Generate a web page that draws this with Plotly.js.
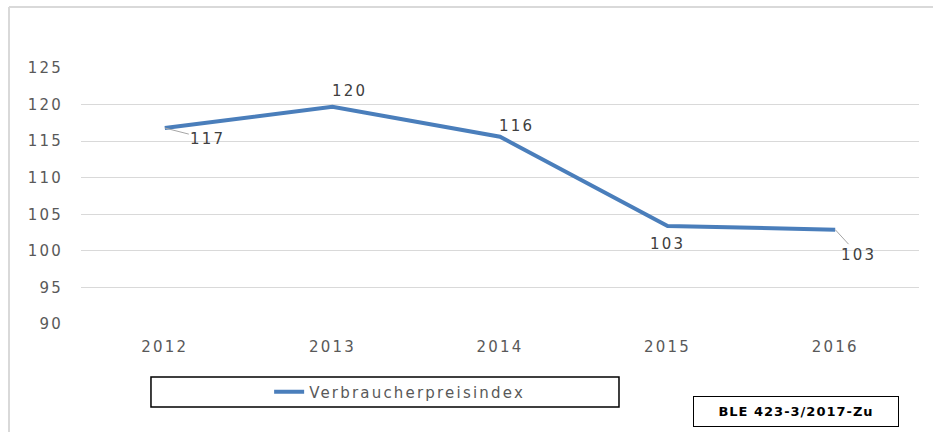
<!DOCTYPE html>
<html>
<head>
<meta charset="utf-8">
<script src="https://cdn.plot.ly/plotly-3.0.1.min.js"></script>
<style>
html,body{margin:0;padding:0;background:#fff;}
#chart{width:933px;height:432px;}
svg text{letter-spacing:2.2px;}
#chart svg g.annotation[data-index="5"] text{letter-spacing:1px !important;}
</style>
</head>
<body>
<div id="chart"></div>
<script>
const years = ['2012', '2013', '2014', '2015', '2016'];
const values = [116.8, 119.7, 115.6, 103.4, 102.9];
const seriesName = 'Verbraucherpreisindex';
const yTicks = [90, 95, 100, 105, 110, 115, 120, 125];
const sourceText = 'BLE 423-3/2017-Zu';

const textColor = '#595959';
const fontFam = 'DejaVu Sans, Verdana, sans-serif';

// label placement per point (pixels)
const labelPlace = [
  {arrow: true, ax: 43, ay: 11},
  {arrow: false, xs: 17, ys: 16},
  {arrow: false, xs: 16, ys: 11},
  {arrow: false, xs: 0, ys: -18},
  {arrow: true, ax: 23, ay: 25}
];

const annotations = values.map((v, i) => {
  const p = labelPlace[i];
  const a = {
    x: i, y: v, xref: 'x', yref: 'y',
    text: String(Math.round(v)),
    font: {family: fontFam, size: 15, color: '#404040'}
  };
  if (p.arrow) {
    Object.assign(a, {showarrow: true, arrowhead: 0, arrowwidth: 1, arrowcolor: '#a6a6a6', ax: p.ax, ay: p.ay, standoff: 0});
  } else {
    Object.assign(a, {showarrow: false, xshift: p.xs, yshift: p.ys});
  }
  return a;
});

annotations.push({
  xref: 'paper', yref: 'paper', x: 0.8528, y: -0.3418,
  xanchor: 'center', yanchor: 'middle', showarrow: false,
  text: '<b>' + sourceText + '</b>',
  font: {family: fontFam, size: 13, color: '#000'},
  bordercolor: '#000', borderwidth: 1, bgcolor: '#fff',
  width: 202, height: 27
});

const trace = {
  x: years, y: values, type: 'scatter', mode: 'lines',
  name: seriesName,
  line: {color: '#4a7ebb', width: 4},
  showlegend: true
};

const layout = {
  width: 933, height: 432,
  margin: {l: 81, r: 14, t: 68, b: 108},
  paper_bgcolor: '#fff', plot_bgcolor: '#fff',
  font: {family: fontFam, color: textColor, size: 15},
  xaxis: {
    type: 'category', range: [-0.5, 4.5],
    showgrid: false, zeroline: false, showline: false, ticks: '',
    tickfont: {family: fontFam, size: 15, color: textColor},
    ticklabelstandoff: 12
  },
  yaxis: {
    range: [90, 125], tickvals: yTicks,
    showgrid: true, gridcolor: '#d9d9d9', gridwidth: 1,
    zeroline: false, showline: false, ticks: '',
    tickfont: {family: fontFam, size: 15, color: textColor},
    ticklabelstandoff: 17
  },
  showlegend: true,
  legend: {
    x: 0.2245, y: -0.2656, xanchor: 'left', yanchor: 'middle',
    bgcolor: 'rgba(0,0,0,0)', borderwidth: 0,
    font: {family: fontFam, size: 15, color: textColor}
  },
  shapes: [
    {type: 'line', xref: 'paper', yref: 'paper', x0: -0.0859, x1: -0.0859, y0: 1.238, y1: -0.43, line: {color: '#d9d9d9', width: 2}},
    {type: 'line', xref: 'paper', yref: 'paper', x0: -0.0859, x1: 1.02, y0: 1.238, y1: 1.238, line: {color: '#d9d9d9', width: 2}},
    {type: 'rect', xref: 'paper', yref: 'paper', x0: 0.0835, x1: 0.6420, y0: -0.3242, y1: -0.207, line: {color: '#000', width: 1.5}, fillcolor: 'rgba(0,0,0,0)'}
  ],
  annotations: annotations
};

Plotly.newPlot('chart', [trace], layout, {displayModeBar: false, staticPlot: true});
</script>
</body>
</html>
